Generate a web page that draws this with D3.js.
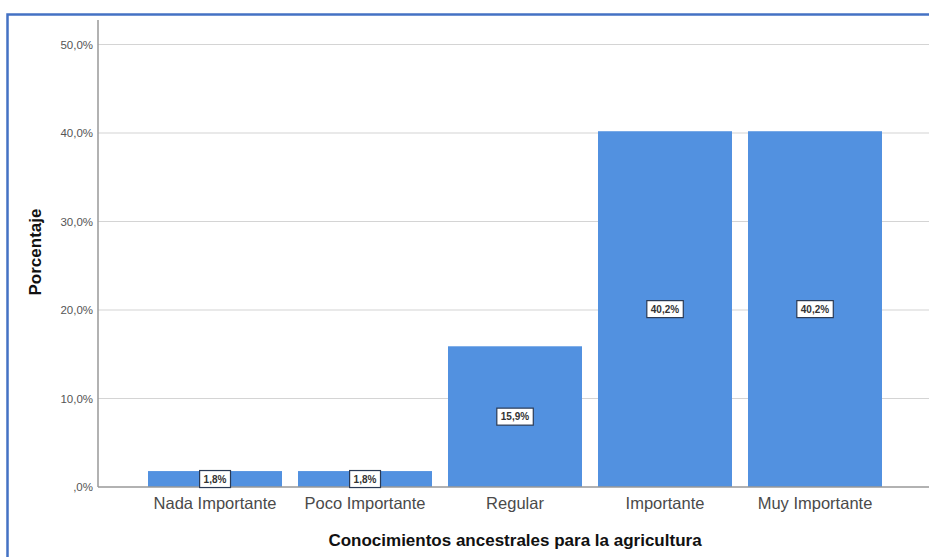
<!DOCTYPE html>
<html><head><meta charset="utf-8">
<script src="https://cdn.jsdelivr.net/npm/d3@7"></script>
<style>body{margin:0;background:#fff;}svg{display:block;font-family:"Liberation Sans",Arial,sans-serif;}</style>
</head><body>
<svg id="c" width="929" height="557"></svg>
<script>
const categories = ["Nada Importante","Poco Importante","Regular","Importante","Muy Importante"];
const values = [1.8, 1.8, 15.9, 40.2, 40.2];
const valueLabels = ["1,8%","1,8%","15,9%","40,2%","40,2%"];
const yTicks = [0,10,20,30,40,50];
const yTickLabels = [",0%","10,0%","20,0%","30,0%","40,0%","50,0%"];
const xTitle = "Conocimientos ancestrales para la agricultura";
const yTitle = "Porcentaje";

const svg = d3.select("#c");
// outer frame
svg.append("rect").attr("x",7.5).attr("y",14.5).attr("width",940).attr("height",560)
  .attr("fill","none").attr("stroke","#4472c4").attr("stroke-width",2.5);

const y = d3.scaleLinear().domain([0,50]).range([487,44.5]);
const x = d3.scaleBand().domain(categories).range([140,890]).paddingInner(16/150).paddingOuter(8/150);

// gridlines
svg.append("g").selectAll("line").data(yTicks.filter(d=>d>0)).join("line")
  .attr("x1",98).attr("x2",929).attr("y1",d=>y(d)).attr("y2",d=>y(d))
  .attr("stroke","#d4d4d4").attr("stroke-width",1.2);

// bars
svg.append("g").selectAll("rect").data(values).join("rect")
  .attr("x",(d,i)=>x(categories[i])).attr("width",x.bandwidth())
  .attr("y",d=>y(d)).attr("height",d=>y(0)-y(d)).attr("fill","#5291e0");

// axes
const yAxis = d3.axisLeft(y).tickValues(yTicks).tickFormat((d,i)=>yTickLabels[i]).tickSize(0).tickPadding(5);
const gy = svg.append("g").attr("transform","translate(98,0)").call(yAxis);
gy.select(".domain").remove();
gy.selectAll("text").attr("font-size",11.5).attr("fill","#555");
svg.append("line").attr("x1",98).attr("x2",98).attr("y1",20).attr("y2",487).attr("stroke","#999").attr("stroke-width",1.5);

const xAxis = d3.axisBottom(x).tickSize(0).tickPadding(10);
const gx = svg.append("g").attr("transform","translate(0,487)").call(xAxis);
gx.select(".domain").remove();
gx.selectAll("text").attr("font-size",16.5).attr("fill","#4a4a4a").attr("y",22).attr("dy",0);
svg.append("line").attr("x1",98).attr("x2",929).attr("y1",487).attr("y2",487).attr("stroke","#999").attr("stroke-width",1.5);

// value labels
const lg = svg.append("g");
values.forEach((v,i)=>{
  const cx = x(categories[i]) + x.bandwidth()/2;
  const cy = (y(v)+y(0))/2;
  const g = lg.append("g");
  const t = g.append("text").attr("x",cx).attr("y",cy).attr("text-anchor","middle")
    .attr("dominant-baseline","central").attr("font-size",10).attr("font-weight","bold")
    .attr("fill","#333").text(valueLabels[i]);
  const bb = t.node().getBBox();
  g.insert("rect","text").attr("x",bb.x-4).attr("y",cy-8.5).attr("width",bb.width+8).attr("height",17)
    .attr("fill","#fff").attr("stroke","#2a3a55").attr("stroke-width",1.2);
});

// titles
svg.append("text").attr("x",515).attr("y",546).attr("text-anchor","middle")
  .attr("font-size",17).attr("font-weight","bold").attr("fill","#111").text(xTitle);
svg.append("text").attr("transform","translate(41,252) rotate(-90)").attr("text-anchor","middle")
  .attr("font-size",17).attr("font-weight","bold").attr("fill","#111").text(yTitle);
</script>
</body></html>
